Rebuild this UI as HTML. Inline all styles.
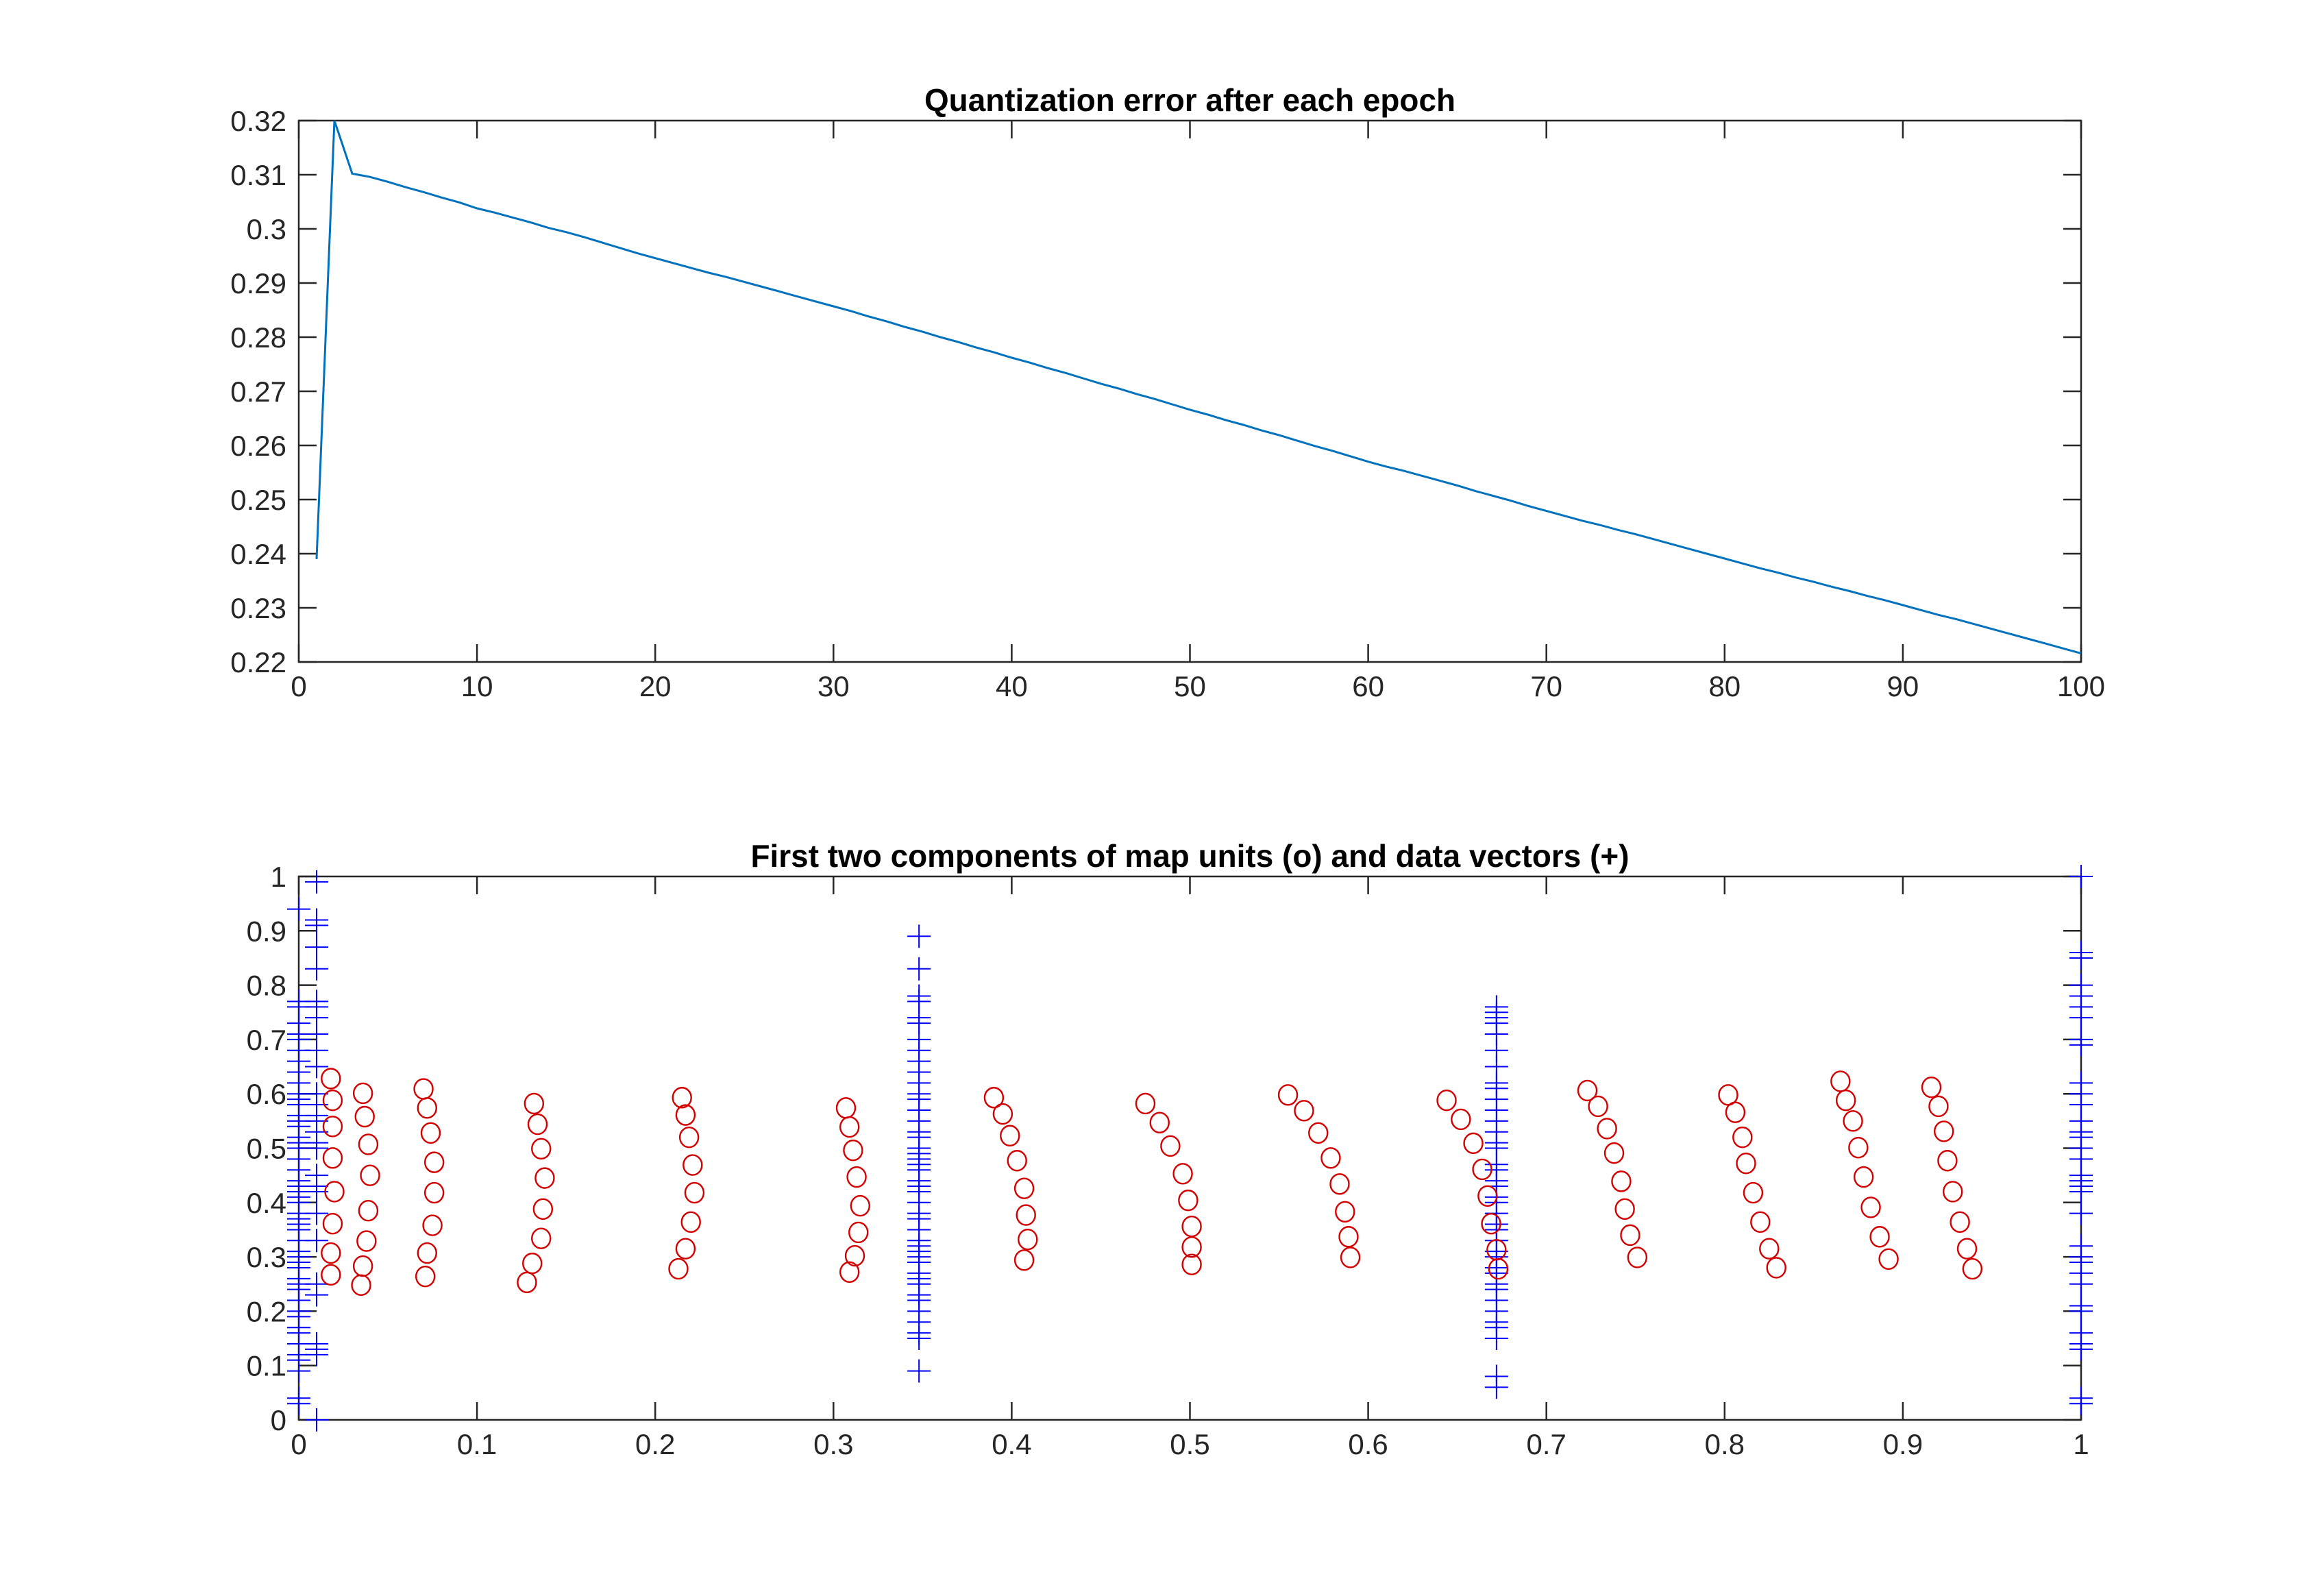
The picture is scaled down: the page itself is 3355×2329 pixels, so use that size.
<!DOCTYPE html>
<html><head><meta charset="utf-8"><style>
html,body{margin:0;padding:0;background:#fff}
svg{display:block}
text{font-family:"Liberation Sans",Arial,sans-serif;fill:#262626}
</style></head><body>
<svg id="fig" width="3355" height="2329" viewBox="0 0 3355 2329" xmlns="http://www.w3.org/2000/svg">
<rect width="3355" height="2329" fill="#fff"/>
<g id="ax1"></g>
<g id="ax2"></g>
</svg>
<script>
// ---- Top chart data ----
const qeEpochs = [];
const qeValues = [0.2390,0.3200,0.3102,0.3096,0.3087,0.3077,0.3068,0.3058,0.3049,0.3038,
0.3030,0.3021,0.3012,0.3002,0.2994,0.2985,0.2975,0.2965,0.2955,0.2946,
0.2937,0.2928,0.2919,0.2911,0.2902,0.2893,0.2884,0.2875,0.2866,0.2857,
0.2848,0.2838,0.2829,0.2819,0.2810,0.2800,0.2791,0.2781,0.2772,0.2762,
0.2753,0.2743,0.2734,0.2724,0.2714,0.2705,0.2695,0.2686,0.2676,0.2666,
0.2657,0.2647,0.2638,0.2628,0.2619,0.2609,0.2599,0.2590,0.2580,0.2570,
0.2561,0.2553,0.2544,0.2535,0.2526,0.2516,0.2507,0.2498,0.2488,0.2479,
0.2470,0.2461,0.2453,0.2444,0.2436,0.2427,0.2418,0.2409,0.2400,0.2391,
0.2382,0.2373,0.2365,0.2356,0.2348,0.2339,0.2331,0.2322,0.2314,0.2305,
0.2296,0.2287,0.2279,0.2270,0.2261,0.2252,0.2243,0.2234,0.2225,0.2216];
for (let i = 0; i < qeValues.length; i++) qeEpochs.push(i + 1);
const qeXTicks = [0,10,20,30,40,50,60,70,80,90,100];
const qeYTicks = [0.22,0.23,0.24,0.25,0.26,0.27,0.28,0.29,0.3,0.31,0.32];

// ---- Bottom chart data ----
const unitX = [
0.018,0.019,0.019,0.019,0.020,0.019,0.018,0.018,
0.036,0.037,0.039,0.040,0.039,0.038,0.036,0.035,
0.070,0.072,0.074,0.076,0.076,0.075,0.072,0.071,
0.132,0.134,0.136,0.138,0.137,0.136,0.131,0.128,
0.215,0.217,0.219,0.221,0.222,0.220,0.217,0.213,
0.307,0.309,0.311,0.313,0.315,0.314,0.312,0.309,
0.390,0.395,0.399,0.403,0.407,0.408,0.409,0.407,
0.475,0.483,0.489,0.496,0.499,0.501,0.501,0.501,
0.555,0.564,0.572,0.579,0.584,0.587,0.589,0.590,
0.644,0.652,0.659,0.664,0.667,0.669,0.672,0.673,
0.723,0.729,0.734,0.738,0.742,0.744,0.747,0.751,
0.802,0.806,0.810,0.812,0.816,0.820,0.825,0.829,
0.865,0.868,0.872,0.875,0.878,0.882,0.887,0.892,
0.916,0.920,0.923,0.925,0.928,0.932,0.936,0.939];
const unitY = [
0.628,0.588,0.540,0.482,0.420,0.361,0.307,0.267,
0.601,0.558,0.507,0.450,0.385,0.329,0.283,0.248,
0.609,0.574,0.528,0.474,0.418,0.358,0.307,0.264,
0.582,0.544,0.499,0.445,0.388,0.334,0.288,0.253,
0.593,0.561,0.520,0.469,0.418,0.364,0.315,0.278,
0.574,0.539,0.496,0.447,0.394,0.345,0.302,0.272,
0.593,0.563,0.523,0.477,0.426,0.377,0.332,0.294,
0.582,0.547,0.504,0.453,0.404,0.356,0.318,0.286,
0.598,0.569,0.528,0.482,0.434,0.383,0.337,0.299,
0.588,0.553,0.509,0.461,0.412,0.361,0.313,0.278,
0.606,0.577,0.536,0.491,0.439,0.388,0.340,0.299,
0.598,0.566,0.520,0.472,0.418,0.364,0.315,0.280,
0.623,0.588,0.550,0.501,0.447,0.391,0.337,0.296,
0.612,0.577,0.531,0.477,0.420,0.364,0.315,0.278];
const dataGroupX = [0, 0.01, 0.348, 0.672, 1.0];
const dataY0 = [0.94,0.77,0.76,0.73,0.71,0.70,0.68,0.66,0.64,0.62,0.60,0.59,0.58,0.56,0.55,0.54,0.52,0.51,0.50,0.48,0.46,0.44,0.43,0.42,0.41,0.40,0.38,0.37,0.36,0.35,0.33,0.31,0.30,0.29,0.28,0.26,0.25,0.24,0.22,0.20,0.19,0.17,0.16,0.14,0.12,0.11,0.09,0.04,0.03];
const dataY1 = [0.99,0.92,0.91,0.87,0.83,0.77,0.76,0.74,0.71,0.68,0.65,0.60,0.58,0.56,0.55,0.53,0.51,0.50,0.45,0.43,0.42,0.38,0.33,0.25,0.23,0.14,0.13,0.12,0.0];
const dataY2 = [0.89,0.83,0.78,0.77,0.74,0.73,0.70,0.68,0.66,0.64,0.62,0.60,0.59,0.57,0.55,0.53,0.52,0.50,0.49,0.48,0.47,0.46,0.44,0.43,0.42,0.40,0.38,0.37,0.35,0.33,0.32,0.31,0.30,0.29,0.27,0.26,0.25,0.23,0.22,0.20,0.18,0.16,0.15,0.09];
const dataY3 = [0.76,0.75,0.74,0.73,0.71,0.68,0.65,0.62,0.61,0.59,0.57,0.55,0.53,0.51,0.50,0.47,0.46,0.44,0.43,0.41,0.40,0.38,0.36,0.35,0.33,0.31,0.30,0.28,0.27,0.25,0.24,0.22,0.20,0.18,0.17,0.15,0.08,0.06];
const dataY4 = [1.0,0.86,0.85,0.80,0.78,0.76,0.74,0.70,0.69,0.62,0.60,0.58,0.55,0.53,0.52,0.50,0.48,0.45,0.44,0.43,0.42,0.38,0.32,0.30,0.29,0.27,0.25,0.21,0.20,0.16,0.14,0.13,0.04,0.03];
const dataGroupsY = [dataY0, dataY1, dataY2, dataY3, dataY4];
const mapXTicks = [0,0.1,0.2,0.3,0.4,0.5,0.6,0.7,0.8,0.9,1];
const mapYTicks = [0,0.1,0.2,0.3,0.4,0.5,0.6,0.7,0.8,0.9,1];
const mapXLabels = ["0","0.1","0.2","0.3","0.4","0.5","0.6","0.7","0.8","0.9","1"];
const mapYLabels = ["0","0.1","0.2","0.3","0.4","0.5","0.6","0.7","0.8","0.9","1"];

const NS = "http://www.w3.org/2000/svg";
function mk(parent, tag, attrs, txt) {
  const e = document.createElementNS(NS, tag);
  for (const k in attrs) e.setAttribute(k, attrs[k]);
  if (txt !== undefined) e.textContent = txt;
  parent.appendChild(e);
  return e;
}
const L = 436, R = 3037, TL = 26;

function drawAxes(g, top, bot, xmin, xmax, ymin, ymax, xt, xl, yt, yl, title, titleLen) {
  const sx = v => L + (v - xmin) / (xmax - xmin) * (R - L);
  const sy = v => bot - (v - ymin) / (ymax - ymin) * (bot - top);
  const box = mk(g, "rect", {x:L, y:top, width:R-L, height:bot-top, fill:"none", stroke:"#262626", "stroke-width":2.5});
  
  
  xt.forEach((v, i) => {
    const x = sx(v);
    mk(g, "line", {x1:x, y1:bot, x2:x, y2:bot-TL, stroke:"#262626", "stroke-width":2.5});
    mk(g, "line", {x1:x, y1:top, x2:x, y2:top+TL, stroke:"#262626", "stroke-width":2.5});
    const t = mk(g, "text", {x:x, y:bot+50, "text-anchor":"middle", "font-size":42}, xl[i]);
    
    
  });
  yt.forEach((v, i) => {
    const y = sy(v);
    mk(g, "line", {x1:L, y1:y, x2:L+TL, y2:y, stroke:"#262626", "stroke-width":2.5});
    mk(g, "line", {x1:R, y1:y, x2:R-TL, y2:y, stroke:"#262626", "stroke-width":2.5});
    const t = mk(g, "text", {x:L-18, y:y+15, "text-anchor":"end", "font-size":42}, yl[i]);
    
    
  });
  const tt = mk(g, "text", {x:(L+R)/2, y:top-14, "text-anchor":"middle", "font-size":46, "font-weight":"bold", textLength:titleLen, lengthAdjust:"spacingAndGlyphs", style:"fill:#000"}, title);
  
  
  return {sx, sy};
}

// Top chart
const g1 = document.getElementById("ax1");
const a1 = drawAxes(g1, 176, 966, 0, 100, 0.22, 0.32, qeXTicks, qeXTicks.map(String),
  qeYTicks, qeYTicks.map(String), "Quantization error after each epoch", 775);
let d = "";
qeValues.forEach((v, i) => { d += (i ? "L" : "M") + a1.sx(qeEpochs[i]).toFixed(1) + "," + a1.sy(v).toFixed(1); });
const line = mk(g1, "path", {d:d, fill:"none", stroke:"#0072BD", "stroke-width":3});



// Bottom chart
const g2 = document.getElementById("ax2");
const a2 = drawAxes(g2, 1279, 2072, 0, 1, 0, 1, mapXTicks, mapXLabels, mapYTicks, mapYLabels,
  "First two components of map units (o) and data vectors (+)", 1282);
const plusG = mk(g2, "g", {stroke:"#0000ff", "stroke-width":2});


dataGroupsY.forEach((ys, gi) => {
  ys.forEach(v => {
    const x = a2.sx(dataGroupX[gi]), y = a2.sy(v);
    const p = mk(plusG, "path", {d:`M${x-17},${y}H${x+17}M${x},${y-17}V${y+17}`});
    
    
  });
});
const circG = mk(g2, "g", {stroke:"#d40000", "stroke-width":2.4, fill:"none"});


unitX.forEach((v, i) => {
  const c = mk(circG, "ellipse", {cx:a2.sx(v), cy:a2.sy(unitY[i]), rx:13.5, ry:14.5});
  
  
});
</script>
</body></html>
